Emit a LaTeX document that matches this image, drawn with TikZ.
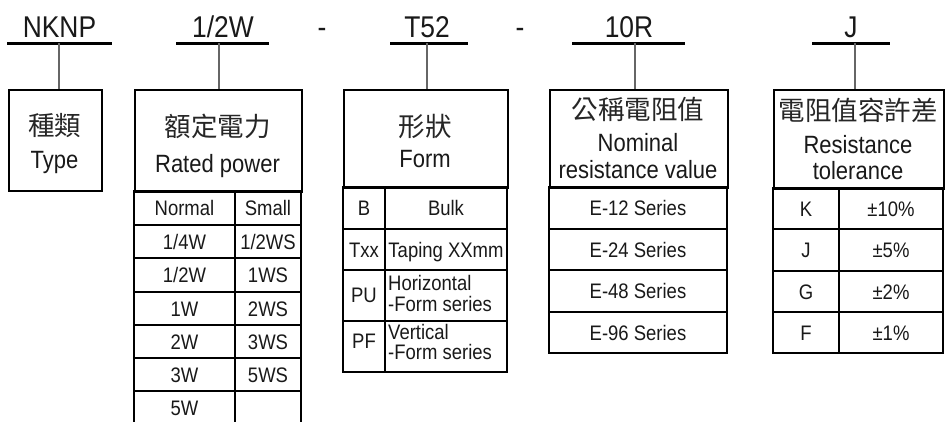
\documentclass[tikz,border=0pt]{standalone}
\usepackage{fontspec}
\setmainfont[FakeStretch=0.88]{Liberation Sans}
\newfontfamily\cjk{Noto Sans CJK TC}
\begin{document}
\begin{tikzpicture}[x=1pt,y=-1pt,
  box/.style={draw=black, line width=2.2pt},
  hbox/.style={box, inner sep=0pt, anchor=north west},
  rowline/.style={line width=2pt},
  uline/.style={line width=3pt},
  conn/.style={line width=1.1pt, draw=black!60},
  lbl/.style={font=\fontsize{30}{32}\selectfont, anchor=base, inner sep=0pt, text=black!90},
  cj/.style={font=\cjk\fontsize{26.5}{28}\selectfont, anchor=base, inner sep=0pt, text=black!85},
  hd/.style={font=\fontsize{25}{28}\selectfont, anchor=base, inner sep=0pt, text=black!90},
  cell/.style={font=\fontsize{21}{22}\selectfont, anchor=base, inner sep=0pt, text=black!90},
  lcell/.style={cell, anchor=base west}
]
\useasboundingbox[fill=white] (0,0) rectangle (946,421);

% ---------- top code labels ----------
\node[lbl] (lNKNP) at (59.5,37) {NKNP};
\node[lbl] (lW) at (223,37) {1/2W};
\node[lbl] (dash1) at (322,37) {-};
\node[lbl] (lT) at (427,37) {T52};
\node[lbl] (dash2) at (520,37) {-};
\node[lbl] (lR) at (629,37) {10R};
\node[lbl] (lJ) at (851,37) {J};

\draw[uline] (7,43) -- (112,43);
\draw[uline] (176,43) -- (269,43);
\draw[uline] (390,43) -- (468,43);
\draw[uline] (572,43) -- (685,43);
\draw[uline] (812,43) -- (890,43);

\coordinate (c1) at (59,43);
\coordinate (c2) at (219,43);
\coordinate (c3) at (427,43);
\coordinate (c4) at (635,43);
\coordinate (c5) at (855,43);

% ---------- header boxes ----------
\node[hbox, minimum width=93pt, minimum height=101pt] (typebox) at (8,89) {};
\node[hbox, minimum width=167pt, minimum height=102pt] (ratedbox) at (134,89) {};
\node[hbox, minimum width=164pt, minimum height=98pt] (formbox) at (343,89) {};
\node[hbox, minimum width=178pt, minimum height=98pt] (nombox) at (549,89) {};
\node[hbox, minimum width=170pt, minimum height=99pt] (tolbox) at (773,89) {};

\draw[conn] (c1) -- (typebox.north -| c1);
\draw[conn] (c2) -- (ratedbox.north -| c2);
\draw[conn] (c3) -- (formbox.north -| c3);
\draw[conn] (c4) -- (nombox.north -| c4);
\draw[conn] (c5) -- (tolbox.north -| c5);

% header texts
\node[cj] (t1a) at (54.5,135) {種類};
\node[hd] (t1b) at (54.5,168) {Type};
\node[cj] (t2a) at (217.5,136) {額定電力};
\node[hd] (t2b) at (217.5,172) {Rated power};
\node[cj] (t3a) at (425,136) {形狀};
\node[hd] (t3b) at (425,167) {Form};
\node[cj] (t4a) at (638,119) {公稱電阻值};
\node[hd] (t4b) at (638,151) {Nominal};
\node[hd] (t4c) at (638,178) {resistance value};
\node[cj] (t5a) at (858,120) {電阻值容許差};
\node[hd] (t5b) at (858,153) {Resistance};
\node[hd] (t5c) at (858,179) {tolerance};

% ---------- Rated power table ----------
\draw[box] (134,191) rectangle (301,424);
\draw[rowline] (235,191) -- (235,424);
\foreach \y in {224.5,258,291.5,325,358,391}
  \draw[rowline] (134,\y) -- (301,\y);
\node[cell] (rn0) at (184.5,215) {Normal};   \node[cell] (rs0) at (268,215) {Small};
\node[cell] (rn1) at (184.5,249) {1/4W};     \node[cell] (rs1) at (268,249) {1/2WS};
\node[cell] (rn2) at (184.5,282) {1/2W};     \node[cell] (rs2) at (268,282) {1WS};
\node[cell] (rn3) at (184.5,316) {1W};       \node[cell] (rs3) at (268,316) {2WS};
\node[cell] (rn4) at (184.5,349) {2W};       \node[cell] (rs4) at (268,349) {3WS};
\node[cell] (rn5) at (184.5,382) {3W};       \node[cell] (rs5) at (268,382) {5WS};
\node[cell] (rn6) at (184.5,415) {5W};

% ---------- Form table ----------
\draw[box] (343,187) rectangle (507,372);
\draw[rowline] (385,187) -- (385,372);
\foreach \y in {229,270,321}
  \draw[rowline] (343,\y) -- (507,\y);
\node[cell] (fa1) at (364,215.5) {B};   \node[cell] (fb1) at (446,215.5) {Bulk};
\node[cell] (fa2) at (364,257) {Txx};   \node[cell] (fb2) at (446,257) {Taping XXmm};
\node[cell] (fa3) at (364,302) {PU};
\node[lcell] (fb3a) at (388,290) {Horizontal};
\node[lcell] (fb3b) at (388,311) {-Form series};
\node[cell] (fa4) at (364,348) {PF};
\node[lcell] (fb4a) at (388,339) {Vertical};
\node[lcell] (fb4b) at (388,359) {-Form series};

% ---------- Nominal resistance table ----------
\draw[box] (549,187) rectangle (727,353);
\foreach \y in {229,270,312}
  \draw[rowline] (549,\y) -- (727,\y);
\node[cell] (e1) at (638,215.5) {E-12 Series};
\node[cell] (e2) at (638,257) {E-24 Series};
\node[cell] (e3) at (638,298.5) {E-48 Series};
\node[cell] (e4) at (638,340) {E-96 Series};

% ---------- Tolerance table ----------
\draw[box] (773,188) rectangle (943,353);
\draw[rowline] (839,188) -- (839,353);
\foreach \y in {229,271,312}
  \draw[rowline] (773,\y) -- (943,\y);
\node[cell] (ka) at (806,216) {K}; \node[cell] (kb) at (891,216) {±10\%};
\node[cell] (ja) at (806,257.5) {J}; \node[cell] (jb) at (891,257.5) {±5\%};
\node[cell] (ga) at (806,299) {G}; \node[cell] (gb) at (891,299) {±2\%};
\node[cell] (fa) at (806,340) {F}; \node[cell] (fb) at (891,340) {±1\%};
\end{tikzpicture}
\end{document}
